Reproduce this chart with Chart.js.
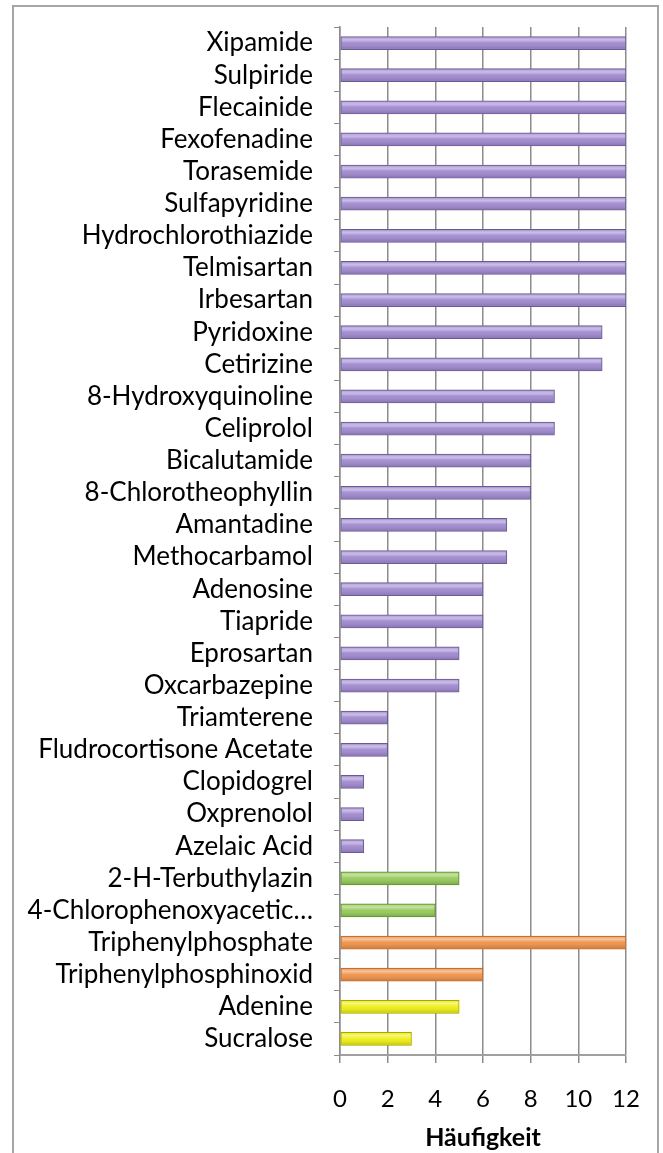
<!DOCTYPE html>
<html>
<head>
<meta charset="utf-8">
<script src="https://cdn.jsdelivr.net/npm/chart.js@4"></script>
<style>
  html, body { margin: 0; padding: 0; background: #fff; }
  #frame {
    position: absolute; left: 12px; top: 5px; width: 643px; height: 1160px;
    border: 2px solid #a6a6a6; border-bottom: none;
  }
  #wrap { position: absolute; left: 0; top: 0; width: 663px; height: 1153px; }
</style>
</head>
<body>
<div id="frame"></div>
<div id="wrap"><canvas id="chart" width="663" height="1153"></canvas></div>
<script>
const substances = [
  'Xipamide', 'Sulpiride', 'Flecainide', 'Fexofenadine', 'Torasemide', 'Sulfapyridine',
  'Hydrochlorothiazide', 'Telmisartan', 'Irbesartan', 'Pyridoxine', 'Cetirizine',
  '8-Hydroxyquinoline', 'Celiprolol', 'Bicalutamide', '8-Chlorotheophyllin', 'Amantadine',
  'Methocarbamol', 'Adenosine', 'Tiapride', 'Eprosartan', 'Oxcarbazepine', 'Triamterene',
  'Fludrocortisone Acetate', 'Clopidogrel', 'Oxprenolol', 'Azelaic Acid', '2-H-Terbuthylazin',
  '4-Chlorophenoxyacetic…', 'Triphenylphosphate', 'Triphenylphosphinoxid', 'Adenine', 'Sucralose'
];
const counts = [12, 12, 12, 12, 12, 12, 12, 12, 12, 11, 11, 9, 9, 8, 8, 7, 7, 6, 6, 5, 5, 2, 2, 1, 1, 1, 5, 4, 12, 6, 5, 3];
// group of each substance: 0 pharma, 1 pesticide, 2 industrial, 3 other
const groups = [0, 0, 0, 0, 0, 0, 0, 0, 0, 0, 0, 0, 0, 0, 0, 0, 0, 0, 0, 0, 0, 0, 0, 0, 0, 0, 1, 1, 2, 2, 3, 3];
const xTicks = [0, 2, 4, 6, 8, 10, 12];

const fillColors = ['#9f88cf', '#94c957', '#ef9147', '#eeee10'];
const edgeColors = ['#6a5a94', '#5f8a2e', '#b8652a', '#a8a800'];

const FONT = 'Lato, "Open Sans", sans-serif';

// glossy look on each bar, using the bar geometry from Chart.js
const gloss = {
  id: 'gloss',
  afterDatasetsDraw(chart) {
    const ctx = chart.ctx;
    chart.getDatasetMeta(0).data.forEach(bar => {
      const top = bar.y - bar.height / 2;
      const g = ctx.createLinearGradient(0, top, 0, top + bar.height);
      g.addColorStop(0, 'rgba(255,255,255,0.15)');
      g.addColorStop(0.25, 'rgba(255,255,255,0.45)');
      g.addColorStop(0.5, 'rgba(255,255,255,0.05)');
      g.addColorStop(1, 'rgba(0,0,0,0.2)');
      ctx.save();
      ctx.fillStyle = g;
      ctx.fillRect(bar.base + 1, top + 1, bar.x - bar.base - 2, bar.height - 2);
      ctx.restore();
    });
  }
};

new Chart(document.getElementById('chart').getContext('2d'), {
  type: 'bar',
  data: {
    labels: substances,
    datasets: [{
      data: counts,
      backgroundColor: groups.map(g => fillColors[g]),
      borderColor: groups.map(g => edgeColors[g]),
      borderWidth: 1,
      borderSkipped: false,
      barThickness: 13
    }]
  },
  options: {
    indexAxis: 'y',
    responsive: false,
    animation: false,
    layout: { padding: { top: 27, right: 37, left: 0, bottom: 0 } },
    plugins: { legend: { display: false }, tooltip: { enabled: false } },
    scales: {
      x: {
        min: 0,
        max: 12,
        afterBuildTicks: scale => { scale.ticks = xTicks.map(v => ({ value: v })); },
        afterFit: scale => { scale.height = 98; },
        grid: { color: '#8c8c8c', lineWidth: 1.5, tickLength: 8 },
        border: { color: '#a0a0a0', width: 2 },
        ticks: { color: '#000', padding: 22, font: { family: FONT, size: 24 } },
        title: {
          display: true,
          text: 'Häufigkeit',
          color: '#000',
          padding: { top: 4, bottom: 0 },
          font: { family: FONT, size: 25, weight: 'bold' }
        }
      },
      y: {
        afterFit: scale => {
          scale.width = 340;
          scale.paddingTop = 0;
          scale.paddingBottom = 0;
        },
        grid: { drawOnChartArea: false, offset: true, color: '#8c8c8c', tickLength: 6 },
        border: { color: '#8c8c8c', width: 1.5 },
        ticks: { color: '#000', padding: 21, autoSkip: false, font: { family: FONT, size: 26 } }
      }
    }
  },
  plugins: [gloss]
});
</script>
</body>
</html>
